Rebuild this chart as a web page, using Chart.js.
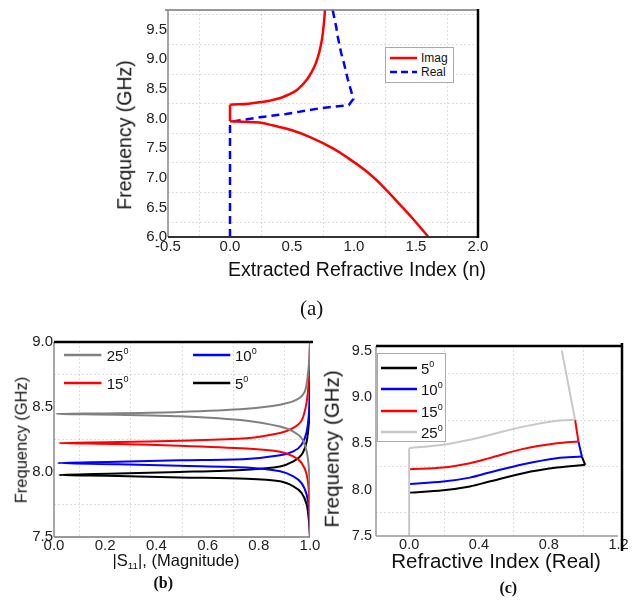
<!DOCTYPE html>
<html>
<head>
<meta charset="utf-8">
<script src="https://cdn.jsdelivr.net/npm/chart.js@4.4.1/dist/chart.umd.min.js"></script>
<style>
html,body{margin:0;padding:0;background:#fff;}
body{width:639px;height:601px;position:relative;overflow:hidden;font-family:"Liberation Sans",Arial,sans-serif;color:#111;}
canvas{position:absolute;}
.t{position:absolute;white-space:nowrap;line-height:1;transform:translate(-50%,-50%);z-index:5;}
.ty{position:absolute;white-space:nowrap;line-height:1;transform:translate(-50%,-50%) rotate(-90deg);z-index:5;}
.serif{font-family:"Liberation Serif","Times New Roman",serif;}
.box{position:absolute;background:#fff;border:1px solid #aaa;box-sizing:border-box;z-index:4;}
.lrow{position:absolute;white-space:nowrap;line-height:1;transform:translateY(-50%);z-index:6;}
svg.ls{position:absolute;overflow:visible;z-index:6;}
sup{font-size:0.6em;vertical-align:0.75em;line-height:0;}
sub{font-size:0.6em;vertical-align:-0.35em;line-height:0;}
</style>
</head>
<body>
<canvas id="ca" width="400" height="262" style="left:100px;top:0px;width:400px;height:262px"></canvas>
<canvas id="cb" width="325" height="232" style="left:0px;top:330px;width:325px;height:232px"></canvas>
<canvas id="cc" width="309" height="232" style="left:330px;top:330px;width:309px;height:232px"></canvas>

<div class="ty" style="left:125px;top:135px;font-size:19.5px;">Frequency (GHz)</div>
<div class="t" style="left:357px;top:270px;font-size:19.5px;">Extracted Refractive Index (n)</div>
<div class="t serif" style="left:311.7px;top:308px;font-size:21px;">(a)</div>

<div class="ty" style="left:20.8px;top:440px;font-size:16.5px;">Frequency (GHz)</div>
<div class="t" style="left:176px;top:560px;font-size:16.5px;">|S<sub>11</sub>|, (Magnitude)</div>
<div class="t serif" style="left:163.3px;top:583.3px;font-size:16px;font-weight:bold;">(b)</div>

<div class="ty" style="left:331.7px;top:449px;font-size:20.5px;">Frequency (GHz)</div>
<div class="t" style="left:496px;top:561px;font-size:20.5px;">Refractive Index (Real)</div>
<div class="t serif" style="left:508.3px;top:588.3px;font-size:16px;font-weight:bold;">(c)</div>

<script>
// ---------------- (a) Extracted refractive index ----------------
const aNames = ['Imag', 'Real'];
const aXTicks = [-0.5, 0.0, 0.5, 1.0, 1.5, 2.0];
const aYTicks = [6.0, 6.5, 7.0, 7.5, 8.0, 8.5, 9.0, 9.5];
const aImagN = [0.766, 0.762, 0.757, 0.745, 0.733, 0.715, 0.69, 0.66, 0.625, 0.58, 0.533, 0.47, 0.40, 0.32, 0.237, 0.15, 0.07, 0,
                0, 0.1, 0.237, 0.35, 0.5, 0.65, 0.83, 0.95, 1.1, 1.23, 1.367, 1.48, 1.6];
const aImagF = [9.83, 9.72, 9.60, 9.38, 9.24, 9.08, 8.92, 8.79, 8.67, 8.56, 8.47, 8.40, 8.34, 8.30, 8.272, 8.25, 8.238, 8.233,
                7.955, 7.945, 7.93, 7.88, 7.80, 7.68, 7.495, 7.335, 7.108, 6.86, 6.555, 6.295, 6.0];
const aRealN = [0, 0, 0.005, 0.02, 0.237, 0.452, 0.72, 0.958, 0.995, 0.95, 0.918, 0.897, 0.869, 0.856, 0.834, 0.828];
const aRealF = [6.0, 7.88, 7.93, 7.95, 8.02, 8.075, 8.17, 8.226, 8.33, 8.66, 8.94, 9.10, 9.38, 9.55, 9.77, 9.83];

// ---------------- (b) |S11| magnitude ----------------
const bNames = ['25', '15', '10', '5'];
const bXTicks = [0.0, 0.2, 0.4, 0.6, 0.8, 1.0];
const bYTicks = [7.5, 8.0, 8.5, 9.0];
const b25S = [1.0, 0.998, 0.993, 0.98, 0.948, 0.883, 0.752, 0.49, 0.25, 0.01, 0.25, 0.49, 0.752, 0.883, 0.935, 0.967, 0.987, 0.997, 1.0];
const b25F = [9.0, 8.9, 8.774, 8.62, 8.556, 8.518, 8.487, 8.462, 8.452, 8.447, 8.44, 8.428, 8.395, 8.35, 8.31, 8.26, 8.16, 7.98, 7.5];
const b15S = [1.0, 0.999, 0.997, 0.987, 0.967, 0.935, 0.883, 0.752, 0.49, 0.25, 0.02, 0.25, 0.49, 0.752, 0.883, 0.935, 0.967, 0.987, 0.996, 1.0];
const b15F = [9.0, 8.92, 8.75, 8.54, 8.395, 8.34, 8.30, 8.26, 8.241, 8.23, 8.223, 8.215, 8.202, 8.18, 8.156, 8.12, 8.07, 7.98, 7.83, 7.5];
const b10S = [1.0, 0.9995, 0.997, 0.987, 0.967, 0.935, 0.883, 0.752, 0.49, 0.25, 0.015, 0.25, 0.49, 0.752, 0.883, 0.935, 0.967, 0.987, 0.997, 1.0];
const b10F = [9.0, 8.75, 8.49, 8.31, 8.21, 8.158, 8.128, 8.10, 8.09, 8.078, 8.069, 8.06, 8.048, 8.035, 8.005, 7.966, 7.915, 7.825, 7.70, 7.5];
const b5S  = [1.0, 0.9995, 0.997, 0.987, 0.967, 0.935, 0.883, 0.752, 0.49, 0.25, 0.02, 0.25, 0.49, 0.752, 0.883, 0.935, 0.967, 0.987, 0.996, 1.0];
const b5F  = [9.0, 8.6, 8.415, 8.235, 8.133, 8.082, 8.043, 8.018, 8.0, 7.988, 7.977, 7.97, 7.958, 7.948, 7.928, 7.89, 7.84, 7.75, 7.62, 7.5];

// ---------------- (c) refractive index (real) ----------------
const cNames = ['5', '10', '15', '25'];
const cXTicks = [0.0, 0.4, 0.8, 1.2];
const cYTicks = [7.5, 8.0, 8.5, 9.0, 9.5];
const c5N  = [0, 0.195, 0.348, 0.46, 0.654, 0.846, 1.009, 0.99];
const c5F  = [7.968, 7.994, 8.035, 8.088, 8.178, 8.238, 8.268, 8.357];
const c10N = [0, 0.195, 0.348, 0.46, 0.654, 0.846, 0.99, 0.97];
const c10F = [8.062, 8.087, 8.13, 8.185, 8.275, 8.34, 8.357, 8.52];
const c15N = [0, 0.195, 0.348, 0.46, 0.654, 0.846, 0.97, 0.951];
const c15F = [8.22, 8.238, 8.286, 8.34, 8.44, 8.50, 8.52, 8.754];
const c25N = [0, 0, 0.195, 0.348, 0.46, 0.654, 0.846, 0.951, 0.875];
const c25F = [7.5, 8.448, 8.484, 8.538, 8.59, 8.68, 8.743, 8.754, 9.5];

// ---------------- helpers ----------------
const FF = '"Liberation Sans", Arial, sans-serif';
const pts = (xs, ys) => xs.map((x, i) => ({x: x, y: ys[i]}));
const isLab = (v, labs) => labs.some(l => Math.abs(l - v) < 1e-6);
const gridCol = labs => c => (c.tick && !isLab(c.tick.value, labs)) ? 'rgba(0,0,0,0.13)' : 'rgba(0,0,0,0)';

const framePlugin = {
  id: 'frame',
  afterDraw(chart, args, opts) {
    const ctx = chart.ctx, a = chart.chartArea;
    (opts.lines || []).forEach(l => {
      ctx.save();
      ctx.strokeStyle = l.color; ctx.lineWidth = l.width; ctx.setLineDash([]);
      ctx.beginPath();
      if (l.side === 'top' || l.side === 'bottom') {
        const y = a[l.side];
        ctx.moveTo(a.left + (l.e0 || 0), y); ctx.lineTo(a.right + (l.e1 || 0), y);
      } else {
        const x = a[l.side];
        ctx.moveTo(x, a.top + (l.e0 || 0)); ctx.lineTo(x, a.bottom + (l.e1 || 0));
      }
      ctx.stroke(); ctx.restore();
    });
  }
};

function scale(pos, min, max, step, labs, size, fs, pad) {
  const o = {
    type: 'linear', position: pos, min: min, max: max,
    ticks: {stepSize: step, includeBounds: false, autoSkip: false, maxRotation: 0, padding: pad,
            color: '#222', font: {family: FF, size: fs},
            callback: v => isLab(v, labs) ? Number(v).toFixed(1) : ''},
    grid: {drawTicks: false, color: gridCol(labs), lineWidth: 1},
    border: {display: false, dash: [2, 2]}
  };
  if (pos === 'bottom') o.afterFit = s => { s.height = size; };
  else o.afterFit = s => { s.width = size; };
  return o;
}

function line(label, data, color, width, dash, tension) {
  return {label: label, data: data, borderColor: color, backgroundColor: color, borderWidth: width,
          borderDash: dash || [], showLine: true, pointRadius: 0, tension: tension || 0, fill: false};
}
// split one series into consecutive pieces (sharing end points) so that
// smooth parts can be drawn with tension while sharp corners stay sharp
function pieces(label, xs, ys, cuts, tens, color, width, dash) {
  const p = pts(xs, ys), out = [];
  const idx = [0].concat(cuts, [p.length - 1]);
  for (let k = 0; k < idx.length - 1; k++) {
    out.push(line(label, p.slice(idx[k], idx[k + 1] + 1), color, width, dash, tens[k]));
  }
  return out;
}

function base(padding, frameLines, xs, ys) {
  return {responsive: false, animation: false, devicePixelRatio: 1,
          layout: {padding: padding},
          plugins: {legend: {display: false}, tooltip: {enabled: false}, frame: {lines: frameLines}},
          scales: {x: xs, y: ys}};
}

// ---------------- chart (a) ----------------
new Chart(document.getElementById('ca'), {
  type: 'scatter',
  data: {datasets: [].concat(
    pieces(aNames[0], aImagN, aImagF, [17, 18], [0.35, 0, 0.4], '#ff0000', 2.5),
    [line(aNames[1], pts(aRealN, aRealF), '#0000ff', 2.5, [8, 5], 0)]
  )},
  options: base({left: 0, top: 6, right: 22, bottom: 0},
    [{side: 'top', color: '#777', width: 1.5, e0: -3},
     {side: 'left', color: '#888', width: 1.5},
     {side: 'bottom', color: '#333', width: 2},
     {side: 'right', color: '#000', width: 2.5, e0: -1, e1: 1}],
    scale('bottom', -0.5, 2.0, 0.25, aXTicks, 25, 15, 1),
    scale('left', 6.0, 9.83, 0.25, aYTicks, 68, 15, 1)),
  plugins: [framePlugin]
});

// ---------------- chart (b) ----------------
const bColors = ['#808080', '#ff0000', '#0000ff', '#000000'];
new Chart(document.getElementById('cb'), {
  type: 'scatter',
  data: {datasets: [
    line(bNames[0] + '°', pts(b25S, b25F), bColors[0], 2, null, 0.3),
    line(bNames[1] + '°', pts(b15S, b15F), bColors[1], 2, null, 0.3),
    line(bNames[2] + '°', pts(b10S, b10F), bColors[2], 2, null, 0.3),
    line(bNames[3] + '°', pts(b5S, b5F), bColors[3], 2, null, 0.3)
  ]},
  options: base({left: 0, top: 12, right: 15, bottom: 0},
    [{side: 'left', color: '#888', width: 1.5},
     {side: 'bottom', color: '#777', width: 1.5},
     {side: 'top', color: '#000', width: 2.5, e1: 3}],
    scale('bottom', 0.0, 1.0, 0.1, bXTicks, 25, 15, 0),
    scale('left', 7.5, 9.0, 0.25, bYTicks, 54, 15, 1)),
  plugins: [framePlugin]
});

// ---------------- chart (c) ----------------
const cColors = ['#000000', '#0000ff', '#ff0000', '#c8c8c8'];
new Chart(document.getElementById('cc'), {
  type: 'scatter',
  data: {datasets: [].concat(
    pieces(cNames[3] + '°', c25N, c25F, [1, 7], [0, 0.35, 0], cColors[3], 2),
    pieces(cNames[2] + '°', c15N, c15F, [6], [0.35, 0], cColors[2], 2),
    pieces(cNames[1] + '°', c10N, c10F, [6], [0.35, 0], cColors[1], 2),
    pieces(cNames[0] + '°', c5N, c5F, [6], [0.35, 0], cColors[0], 2)
  )},
  options: base({left: 0, top: 16, right: 17, bottom: 0},
    [{side: 'left', color: '#999', width: 1.5},
     {side: 'bottom', color: '#999', width: 1.5, e1: -4},
     {side: 'top', color: '#000', width: 2.5},
     {side: 'right', color: '#000', width: 2.5, e0: -3, e1: 15}],
    scale('bottom', -0.19, 1.22, 0.2, cXTicks, 26, 14.5, 0),
    scale('left', 7.5, 9.55, 0.25, cYTicks, 46, 14.5, 4)),
  plugins: [framePlugin]
});

// ---------------- HTML legends ----------------
function legRow(x1, x2, tx, y, color, width, dash, html, fs) {
  const ns = 'http://www.w3.org/2000/svg';
  const svg = document.createElementNS(ns, 'svg');
  svg.setAttribute('class', 'ls');
  svg.setAttribute('width', x2 - x1); svg.setAttribute('height', 6);
  svg.style.left = x1 + 'px'; svg.style.top = (y - 3) + 'px';
  const ln = document.createElementNS(ns, 'line');
  ln.setAttribute('x1', 0); ln.setAttribute('x2', x2 - x1);
  ln.setAttribute('y1', 3); ln.setAttribute('y2', 3);
  ln.setAttribute('stroke', color); ln.setAttribute('stroke-width', width);
  if (dash) ln.setAttribute('stroke-dasharray', dash);
  svg.appendChild(ln);
  document.body.appendChild(svg);
  const d = document.createElement('div');
  d.className = 'lrow';
  d.style.left = tx + 'px'; d.style.top = y + 'px'; d.style.fontSize = fs + 'px';
  d.innerHTML = html;
  document.body.appendChild(d);
}
function box(l, t, w, h) {
  const d = document.createElement('div');
  d.className = 'box';
  d.style.left = l + 'px'; d.style.top = t + 'px'; d.style.width = w + 'px'; d.style.height = h + 'px';
  document.body.appendChild(d);
}
// (a)
box(385, 46.7, 68.5, 36.8);
legRow(390, 417, 421, 58.3, '#ff0000', 2.5, null, aNames[0], 12);
legRow(390, 417, 421, 72.3, '#0000ff', 2.5, '7,4', aNames[1], 12);
// (b) two columns: 25,15 | 10,5
legRow(64.3, 101.7, 106.7, 355, bColors[0], 2.5, null, bNames[0] + '<sup>0</sup>', 15);
legRow(64.3, 101.7, 106.7, 383.3, bColors[1], 2.5, null, bNames[1] + '<sup>0</sup>', 15);
legRow(192.7, 230, 235, 355, bColors[2], 2.5, null, bNames[2] + '<sup>0</sup>', 15);
legRow(192.7, 230, 235, 383.3, bColors[3], 2.5, null, bNames[3] + '<sup>0</sup>', 15);
// (c)
box(377.3, 353.3, 68.7, 88.4);
const cRowsY = [367.5, 389, 410.5, 432];
cNames.forEach((n, i) => legRow(380.7, 416.7, 421, cRowsY[i], cColors[i], 2.5, null, n + '<sup>0</sup>', 15));
</script>
</body>
</html>
